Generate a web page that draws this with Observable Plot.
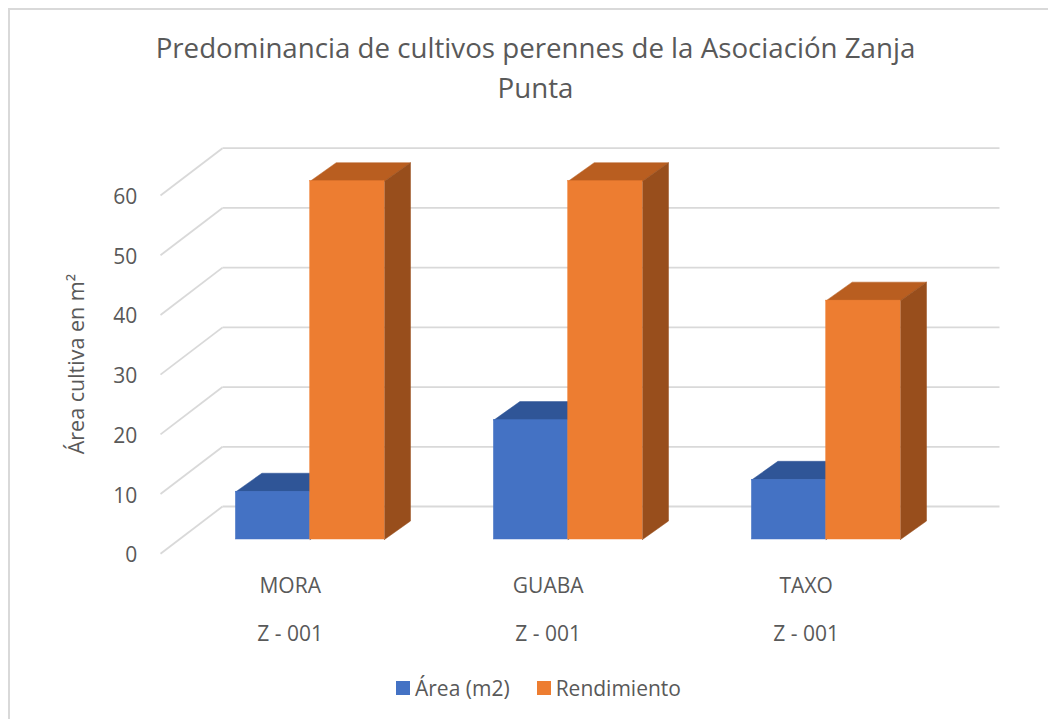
<!DOCTYPE html>
<html>
<head>
<meta charset="utf-8">
<script src="https://cdn.jsdelivr.net/npm/d3@7"></script>
<script src="https://cdn.jsdelivr.net/npm/@observablehq/plot@0.6"></script>
<style>
  html, body { margin: 0; padding: 0; background: #fff; }
  #page { position: relative; width: 1048px; height: 719px; overflow: hidden; font-family: "Open Sans", sans-serif; color: #595959; }
  #frame { position: absolute; left: 8px; top: 8px; width: 1100px; height: 800px; border: 2px solid #d9d9d9; box-sizing: border-box; }
  #title { position: absolute; left: 0; width: 1071px; top: 27px; text-align: center; font-size: 27.7px; line-height: 40px; color: #595959; }
  #chart { position: absolute; left: 0; top: 120px; }
  #legend { position: absolute; left: 396px; top: 676px; display: flex; align-items: center; font-size: 21px; line-height: 24px; color: #595959; }
  .sw { display: inline-block; width: 14px; height: 14px; margin-right: 5px; }
  .item { display: flex; align-items: center; margin-right: 27px; }
</style>
</head>
<body>
<div id="page">
  <div id="frame"></div>
  <div id="title">Predominancia de cultivos perennes de la Asociación Zanja<br>Punta</div>
  <div id="chart"></div>
  <div id="legend"></div>
</div>
<script>
// ---- data ----
const categories = ["MORA", "GUABA", "TAXO"];
const codes = ["Z - 001", "Z - 001", "Z - 001"];
const area = [8, 20, 10];
const rendimiento = [60, 60, 40];
const yTicks = [0, 10, 20, 30, 40, 50, 60];
const seriesNames = ["Área (m2)", "Rendimiento"];
const yLabel = "Área cultiva en m²";

// ---- layout ----
const W = 1048, H = 540;
const mL = 180.7, mR = 93.3, mT = 60.7, mB = 121;
const kx = (W - mL - mR) / categories.length;   // px per category unit
const ky = (H - mT - mB) / 60;                   // px per value unit
const px2x = p => p / kx, px2y = p => p / ky;

const barW = px2x(74.3);
const depthX = px2x(26), depthY = px2y(18.5);

const colors = {
  blue: { front: "#4472C4", top: "#2F5597", side: "#2B4C86" },
  orange: { front: "#ED7D31", top: "#B95E20", side: "#984E1C" }
};

// build bar faces from data
function faces(values, offsetSign) {
  const front = [], top = [], side = [];
  values.forEach((v, i) => {
    const c = i + 0.5;
    const x1 = offsetSign < 0 ? c - barW : c;
    const x2 = offsetSign < 0 ? c : c + barW;
    const id = categories[i];
    front.push({ id, x1, x2, y1: 0, y2: v });
    top.push(
      { id, x: x1, y: v }, { id, x: x2, y: v },
      { id, x: x2 + depthX, y: v + depthY }, { id, x: x1 + depthX, y: v + depthY },
      { id, x: x1, y: v }
    );
    side.push(
      { id, x: x2, y: 0 }, { id, x: x2 + depthX, y: depthY },
      { id, x: x2 + depthX, y: v + depthY }, { id, x: x2, y: v },
      { id, x: x2, y: 0 }
    );
  });
  return { front, top, side };
}
const blue = faces(area, -1);
const orange = faces(rendimiento, 1);

// walls
const backDX = px2x(41.3), backDY = px2y(33);
const frontDX = px2x(-20.7), frontDY = px2y(-14.3);
const backRight = categories.length + px2x(44.3);

function barMarks(f, col) {
  return [
    Plot.line(f.top, { x: "x", y: "y", z: "id", fill: col.top, stroke: col.top, strokeWidth: 0.5, curve: "linear" }),
    Plot.line(f.side, { x: "x", y: "y", z: "id", fill: col.side, stroke: col.side, strokeWidth: 0.5, curve: "linear" }),
    Plot.rect(f.front, { x1: "x1", x2: "x2", y1: "y1", y2: "y2", fill: col.front, stroke: col.front, strokeWidth: 0.5 })
  ];
}

const catIdx = categories.map((c, i) => i);

const chart = Plot.plot({
  width: W, height: H,
  marginLeft: mL, marginRight: mR, marginTop: mT, marginBottom: mB,
  x: { domain: [0, categories.length], axis: null },
  y: { domain: [0, 60], axis: null },
  style: { fontFamily: "Open Sans, sans-serif", fontSize: "21px", color: "#595959", background: "transparent", overflow: "visible" },
  marks: [
    // back wall gridlines
    Plot.link(yTicks, { x1: backDX, x2: backRight, y1: d => d + backDY, y2: d => d + backDY, stroke: "#d9d9d9", strokeWidth: 1.8 }),
    // side wall gridlines
    Plot.link(yTicks, { x1: frontDX, y1: d => d + frontDY, x2: backDX, y2: d => d + backDY, stroke: "#d9d9d9", strokeWidth: 1.8 }),
    // bars: blue first, then orange
    ...barMarks(blue, colors.blue),
    ...barMarks(orange, colors.orange),
    // y tick labels
    Plot.text(yTicks, { x: 0, y: d => d, text: d => String(d), dx: -44, dy: 16, textAnchor: "end", fill: "#595959", fontSize: 21 }),
    // y axis title
    Plot.text([yLabel], { frameAnchor: "left", textAnchor: "middle", dx: -104, dy: 3.7, rotate: -90, fill: "#595959", fontSize: 21.5 }),
    // category labels
    Plot.text(catIdx, { x: i => i + 0.5, y: 0, text: i => categories[i], dx: -20, dy: 46.3, fill: "#595959", fontSize: 21 }),
    Plot.text(catIdx, { x: i => i + 0.5, y: 0, text: i => codes[i], dx: -20, dy: 94.3, fill: "#595959", fontSize: 21 })
  ]
});
document.getElementById("chart").appendChild(chart);

// legend
const legend = document.getElementById("legend");
const swatchColors = [colors.blue.front, colors.orange.front];
seriesNames.forEach((name, i) => {
  const item = document.createElement("span");
  item.className = "item";
  const sw = document.createElement("span");
  sw.className = "sw";
  sw.style.background = swatchColors[i];
  item.appendChild(sw);
  item.appendChild(document.createTextNode(name));
  legend.appendChild(item);
});
</script>
</body>
</html>
